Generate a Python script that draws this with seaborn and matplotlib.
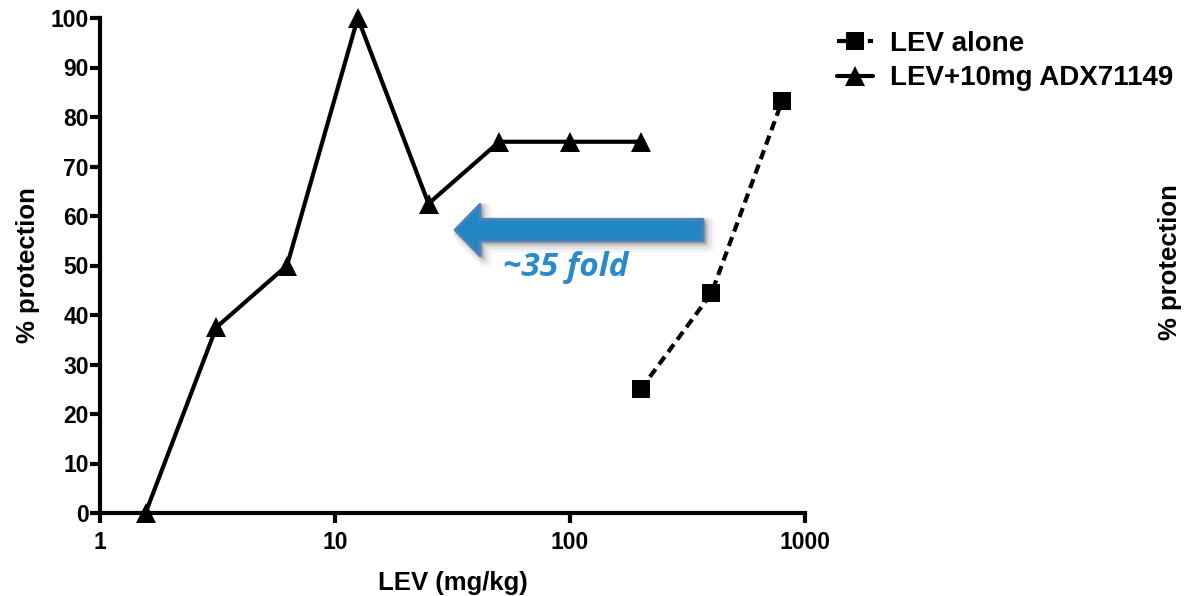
import matplotlib
matplotlib.use("Agg")
import matplotlib.pyplot as plt
import seaborn as sns
import pandas as pd
import numpy as np
from matplotlib.lines import Line2D

# ---- data ----
dose_combo = [1.5625, 3.125, 6.25, 12.5, 25, 50, 100, 200]
prot_combo = [0, 37.5, 50, 100, 62.5, 75, 75, 75]
dose_alone = [200, 400, 800]
prot_alone = [25, 44.4, 83.3]
series_names = ["LEV alone", "LEV+10mg ADX71149"]
x_ticks = [1, 10, 100, 1000]
x_tick_labels = ["1", "10", "100", "1000"]
y_ticks = list(range(0, 101, 10))

sns.set_theme(style="white")
plt.rcParams['font.family'] = ['Liberation Sans', 'DejaVu Sans']
plt.rcParams['font.weight'] = 'bold'
plt.rcParams['text.color'] = 'black'
plt.rcParams['axes.labelcolor'] = 'black'
plt.rcParams['xtick.color'] = 'black'
plt.rcParams['ytick.color'] = 'black'

fig = plt.figure(figsize=(11.84, 5.96), dpi=100)
ax = fig.add_axes([100/1184, 1-513/596, 705/1184, 495/596])

df_combo = pd.DataFrame({"dose": dose_combo, "prot": prot_combo})
df_alone = pd.DataFrame({"dose": dose_alone, "prot": prot_alone})

dash = (0, (2.3, 1.4))
sns.lineplot(data=df_combo, x="dose", y="prot", ax=ax, color="black", lw=3,
             marker="^", markersize=14, markeredgewidth=0, clip_on=False, zorder=4)
sns.lineplot(data=df_alone, x="dose", y="prot", ax=ax, color="black", lw=3,
             marker="s", markersize=13, markeredgewidth=0, clip_on=False, zorder=4,
             linestyle=dash)

ax.set_xscale("log")
ax.set_xlim(1, 1000)
ax.set_ylim(0, 100)
ax.set_xticks(x_ticks)
ax.set_xticklabels(x_tick_labels)
ax.xaxis.set_minor_locator(matplotlib.ticker.NullLocator())
ax.set_yticks(y_ticks)
for lab in ax.get_xticklabels() + ax.get_yticklabels():
    lab.set_fontweight("bold")
    lab.set_fontsize(16.5)
    lab.set_color("black")
ax.tick_params(axis="y", which="major", direction="out", length=7, width=3,
               color="black", pad=1, left=True)
ax.tick_params(axis="x", which="major", direction="out", length=7, width=3,
               color="black", pad=6, bottom=True)
for s in ["top", "right"]:
    ax.spines[s].set_visible(False)
for s in ["left", "bottom"]:
    ax.spines[s].set_linewidth(3)
    ax.spines[s].set_color("black")
    ax.spines[s].set_zorder(3)

ax.set_xlabel("LEV (mg/kg)", fontsize=18.5, fontweight="bold", labelpad=12, color="black")
ax.set_ylabel("% protection", fontsize=18.5, fontweight="bold", labelpad=8, color="black")

# ghost right label
fig.text(1170/1184, 1-262/596, "% protection", rotation=90, ha="center", va="center",
         fontsize=18.5, fontweight="bold", color="black")

# arrow with soft shadow
for off, alpha, lw in [(5, 0.08, 10), (4, 0.12, 7), (3, 0.18, 4), (2, 0.22, 2)]:
    ax.annotate("", xy=(455 + off, 596 - 230 - off), xycoords="figure pixels",
                xytext=(703 + off, 596 - 230 - off), textcoords="figure pixels",
                arrowprops=dict(arrowstyle="simple,head_length=1.8,head_width=3.7,tail_width=1.55",
                                fc="gray", ec="gray", lw=lw, alpha=alpha, mutation_scale=10,
                                shrinkA=0, shrinkB=0))
ax.annotate("", xy=(455, 596 - 230), xycoords="figure pixels",
            xytext=(703, 596 - 230), textcoords="figure pixels",
            arrowprops=dict(arrowstyle="simple,head_length=1.8,head_width=3.7,tail_width=1.55",
                            fc="#2286C3", ec="#4F81BD", lw=2, mutation_scale=10,
                            shrinkA=0, shrinkB=0))
fig.text(566/1184, 1-268/596, "~35 fold", ha="center", va="center",
         fontsize=24, fontweight="bold", fontstyle="italic", color="#2A8BC8",
         family=["Open Sans", "DejaVu Sans"])

handles = [
    Line2D([], [], color="black", lw=3, linestyle=dash, marker="s",
           markersize=13, markeredgewidth=0),
    Line2D([], [], color="black", lw=3, marker="^", markersize=14, markeredgewidth=0),
]
fig.legend(handles, series_names, loc="upper left", bbox_to_anchor=(826/1184, 1-20/596),
           frameon=False, handlelength=1.3, handletextpad=0.6, labelspacing=0.3,
           borderaxespad=0, prop={"weight": "bold", "size": 20})

fig.savefig("out.png", dpi=100, facecolor="white")
